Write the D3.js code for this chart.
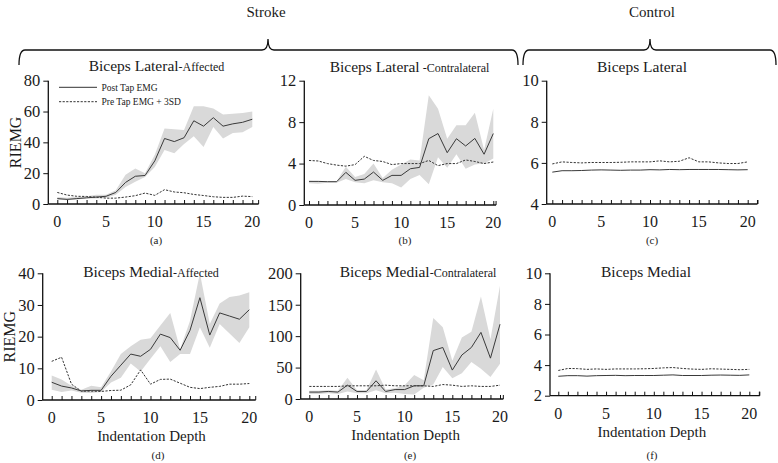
<!DOCTYPE html>
<html><head><meta charset="utf-8">
<script src="https://cdn.jsdelivr.net/npm/d3@7"></script>
<style>
body{margin:0;background:#fff}
svg{display:block;font-family:"Liberation Serif","Times New Roman","DejaVu Serif",serif}
svg text{font-family:"Liberation Serif","Times New Roman","DejaVu Serif",serif !important;fill:#1a1a1a}
</style>
</head><body>
<svg id="chart" width="778" height="463"></svg>
<script>
// ---------- DATA ----------
const depths = [0,1,2,3,4,5,6,7,8,9,10,11,12,13,14,15,16,17,18,19,20];

// (a) Biceps Lateral - Affected
const aPost  = [3.5,3,3.5,4,4.5,5,7.5,14,18,18.5,28,42.5,40.5,43,54,50.5,56,50.5,52,53,55];
const aUpper = [4.5,4,4.5,5,6,6,9,19,23,20,32,49,48.5,48,63.5,63.5,62,58,58.5,59,60];
const aLower = [3,2.5,3,3.5,3.5,4,6,11,14.5,17.5,24,35,33,39,44,37,50,42.5,46,46.5,50];
const aPre   = [7.5,5.8,5,4.9,4.4,3.8,3.8,4.5,5.4,7.1,5.6,9.3,7.8,7.3,6.2,5.5,4.7,4.3,4.3,5.1,4.8];

// (b) Biceps Lateral - Contralateral
const bPost  = [2.28,2.28,2.25,2.25,3.15,2.38,2.5,3.18,2.38,2.86,2.86,3.5,3.63,6.4,6.9,5.05,6.4,5.7,6.43,4.9,6.9];
const bUpper = [2.35,2.3,2.3,2.3,3.7,2.7,3.0,4.0,2.6,3.4,3.9,4.4,4.3,10.6,9.3,6.4,7.7,7.7,8.9,5.3,9.3];
const bLower = [2.1,2.05,2.15,2.15,2.5,2.2,2.1,2.4,2.2,2.1,1.7,2.5,2.9,2.0,4.6,3.6,4.9,3.5,3.9,4.0,4.5];
const bPre   = [4.3,4.25,4.0,3.85,3.75,3.9,4.7,4.3,4.2,3.9,4.0,4.0,4.0,4.3,3.8,4.0,4.0,4.35,4.2,4.0,4.15];

// (c) Biceps Lateral - Control
const cPost  = [5.55,5.62,5.62,5.63,5.65,5.66,5.65,5.64,5.65,5.65,5.67,5.66,5.68,5.67,5.68,5.68,5.68,5.68,5.67,5.66,5.67];
const cPre   = [5.95,6.05,6.02,6.0,6.02,6.02,6.02,6.03,6.05,6.05,6.05,6.1,6.05,6.08,6.25,6.05,6.05,6.0,5.97,5.97,6.05];

// (d) Biceps Medial - Affected
const dPost  = [5.6,4.4,3.8,2.85,3.05,3.05,7.5,11,14.5,13.8,16,20.8,19.7,15.7,22,32.3,20.5,27.5,26.5,25.5,28.5];
const dUpper = [7.7,6.5,4.5,3.2,4.5,4,9,14.5,17,19,19.5,23.5,27.5,16,25,40,24,30.5,32.5,33,34];
const dLower = [3.2,2.5,3,2.3,2.2,2.5,5.5,7,11.5,9,13,17,12,14.5,14.5,23,16.5,24,21,18,23];
const dPre   = [12.2,13.5,5,2.8,2.8,2.7,3.0,3.1,4.8,9.5,5.0,6.5,6.6,5.3,4.0,3.6,4.0,4.3,5.0,5.0,5.2];

// (e) Biceps Medial - Contralateral
const ePost  = [11,11,12,11,22,12,12,29,12,15,15,21,21,77,82,46,70,82,106,65,119];
const eUpper = [13,13,14,13,34,14,14,47,15,17,22,38,30,129,114,61,98,107,163,95,180];
const eLower = [8,8,9,8,12,9,9,14,9,10,8,7,18,23,51,33,41,59,48,35,56];
const ePre   = [20,20,20,20,21,21,21,21,22,21,21,21,21,20,23,22,20,21,20,20,22];

// (f) Biceps Medial - Control
const fPost  = [3.27,3.31,3.31,3.28,3.31,3.32,3.33,3.31,3.32,3.32,3.32,3.34,3.36,3.32,3.32,3.32,3.34,3.35,3.34,3.33,3.36];
const fPre   = [3.65,3.78,3.77,3.72,3.75,3.72,3.75,3.75,3.75,3.76,3.78,3.82,3.84,3.78,3.74,3.72,3.76,3.74,3.72,3.7,3.72];

const xTickLabels = [0,5,10,15,20];
const legendLabels = ["Post Tap EMG","Pre Tap EMG + 3SD"];
const groupLabels = ["Stroke","Control"];

// ---------- LAYOUT ----------
const svg = d3.select("#chart");
const FONT = '"Liberation Serif","Times New Roman","DejaVu Serif",serif';

const panels = [
  {post:aPost,up:aUpper,lo:aLower,pre:aPre,yDom:[0,80],yTicks:[0,20,40,60,80],
   ax:48.3,x0:57.3,x20:252.3,xEnd:20.65,yTop:80.7,yBot:204,
   t1:"Biceps Lateral",t2:"-Affected",tx:156.5,ty:71,lab:"(a)",lx:156,ly:244,ylab:true,xlab:false,legend:true,ctl:false},
  {post:bPost,up:bUpper,lo:bLower,pre:bPre,yDom:[0,12],yTicks:[0,4,8,12],
   ax:304.3,x0:309,x20:493.3,xEnd:20.3,yTop:80.7,yBot:205,
   t1:"Biceps Lateral",t2:" -Contralateral",tx:409.5,ty:72,lab:"(b)",lx:405,ly:244,ylab:false,xlab:false,legend:false,ctl:false},
  {post:cPost,pre:cPre,yDom:[4,10],yTicks:[4,6,8,10],
   ax:546.7,x0:552.3,x20:747.7,xEnd:21,yTop:80.7,yBot:204,
   t1:"Biceps Lateral",t2:"",tx:642,ty:71.5,lab:"(c)",lx:652,ly:244,ylab:false,xlab:false,legend:false,ctl:true},
  {post:dPost,up:dUpper,lo:dLower,pre:dPre,yDom:[0,40],yTicks:[0,10,20,30,40],
   ax:42.7,x0:51.7,x20:249.3,xEnd:20.65,yTop:273.3,yBot:400,
   t1:"Biceps Medial",t2:"-Affected",tx:151,ty:277,lab:"(d)",lx:158,ly:459,ylab:true,xlab:true,legend:false,ctl:false},
  {post:ePost,up:eUpper,lo:eLower,pre:ePre,yDom:[0,200],yTicks:[0,50,100,150,200],
   ax:300.7,x0:309.3,x20:500,xEnd:20.35,yTop:273.3,yBot:399,
   t1:"Biceps Medial",t2:"-Contralateral",tx:418,ty:277,lab:"(e)",lx:410,ly:459,ylab:false,xlab:true,legend:false,ctl:false},
  {post:fPost,pre:fPre,yDom:[2,10],yTicks:[2,4,6,8,10],
   ax:550,x0:558.3,x20:749.3,xEnd:21.1,yTop:273.3,yBot:395.7,
   t1:"Biceps Medial",t2:"",tx:646,ty:277,lab:"(f)",lx:652,ly:459,ylab:false,xlab:true,legend:false,ctl:true}
];

function txt(sel, size){ return sel.style("font-family",FONT).style("font-size",size); }

panels.forEach(p => {
  const g = svg.append("g");
  const x = d3.scaleLinear().domain([0,20]).range([p.x0,p.x20]);
  const y = d3.scaleLinear().domain(p.yDom).range([p.yBot,p.yTop]);

  if (p.up) {
    const area = d3.area().x((d,i)=>x(depths[i])).y0((d,i)=>y(p.lo[i])).y1((d,i)=>y(p.up[i]));
    g.append("path").datum(p.up).attr("d",area).attr("fill","#d9d9d9").attr("stroke","none");
  }
  const line = d3.line().x((d,i)=>x(depths[i])).y(d=>y(d));
  g.append("path").datum(p.pre).attr("d",line).attr("fill","none")
    .attr("stroke","#333").attr("stroke-width",1).attr("stroke-dasharray","2.2,1.4");
  g.append("path").datum(p.post).attr("d",line).attr("fill","none")
    .attr("stroke","#3a3a3a").attr("stroke-width",1);

  // x axis
  const xTickVals = depths.concat(p.ctl ? [21] : []);
  const xAxis = d3.axisBottom(x).tickValues(xTickVals).tickSize(-4).tickFormat("");
  const xg = g.append("g").attr("transform",`translate(0,${p.yBot})`).call(xAxis);
  xg.select(".domain").remove();
  xg.selectAll(".tick line").attr("stroke","#111").attr("stroke-width",1);
  g.append("line").attr("x1",p.ax).attr("x2",x(p.xEnd)).attr("y1",p.yBot).attr("y2",p.yBot)
    .attr("stroke","#111").attr("stroke-width",1.3);
  g.append("line").attr("x1",x(p.xEnd)).attr("x2",x(p.xEnd)).attr("y1",p.yBot).attr("y2",p.yBot-4)
    .attr("stroke","#111").attr("stroke-width",1);
  txt(g.selectAll(".xl").data(xTickLabels).join("text")
    .attr("x",d=>x(d)).attr("y",p.yBot+23).attr("text-anchor","middle"),"16px").text(d=>d);

  // y axis
  const yAxis = d3.axisLeft(y).tickValues(p.yTicks).tickSize(5).tickPadding(3).tickFormat(d3.format("d"));
  const yg = g.append("g").attr("transform",`translate(${p.ax},0)`).call(yAxis);
  yg.attr("font-family",FONT);
  yg.select(".domain").attr("stroke","#111").attr("stroke-width",1.3).attr("d",`M0,${p.yBot}V${p.yTop}`);
  yg.selectAll(".tick line").attr("stroke","#111").attr("stroke-width",1);
  txt(yg.selectAll(".tick text"),"16.5px").attr("fill","#1a1a1a");

  // title
  const t = g.append("text").attr("x",p.tx).attr("y",p.ty).attr("text-anchor","middle").style("font-family",FONT);
  t.append("tspan").style("font-size","15.5px").text(p.t1);
  if (p.t2) t.append("tspan").style("font-size","12px").text(p.t2);

  txt(g.append("text").attr("x",p.lx).attr("y",p.ly).attr("text-anchor","middle"),"11px").text(p.lab);

  if (p.ylab) {
    const cy = (p.yTop+p.yBot)/2;
    txt(g.append("text").attr("transform",`translate(${p.ax-33},${cy}) rotate(-90)`)
      .attr("text-anchor","middle").attr("dy","0.35em"),"16px").text("RIEMG");
  }
  if (p.xlab) {
    txt(g.append("text").attr("x",(p.x0+p.x20)/2+(p.ctl?-2:1)).attr("y",p.yBot+41).attr("text-anchor","middle"),"15px")
      .text("Indentation Depth");
  }
  if (p.legend) {
    const lg = [ {y:87.3,dash:null}, {y:101.7,dash:"2.2,1.4"} ];
    lg.forEach((L,i)=>{
      g.append("line").attr("x1",59).attr("x2",97).attr("y1",L.y).attr("y2",L.y)
        .attr("stroke","#333").attr("stroke-width",1).attr("stroke-dasharray",L.dash);
      txt(g.append("text").attr("x",101.5).attr("y",L.y).attr("dy","0.35em"),"9.5px").text(legendLabels[i]);
    });
  }
});

function brace(x1,xm,x2){
  const yb=50, yt=39, ye=65, r=6;
  return `M${x1},${ye} Q${x1},${yb} ${x1+r},${yb} L${xm-r},${yb} Q${xm},${yb} ${xm},${yt} Q${xm},${yb} ${xm+r},${yb} L${x2-r},${yb} Q${x2},${yb} ${x2},${ye}`;
}
svg.append("path").attr("d",brace(19,268,518)).attr("fill","none").attr("stroke","#111").attr("stroke-width",1.3);
svg.append("path").attr("d",brace(523,650,776)).attr("fill","none").attr("stroke","#111").attr("stroke-width",1.3);
txt(svg.append("text").attr("x",266).attr("y",17).attr("text-anchor","middle"),"15px").text(groupLabels[0]);
txt(svg.append("text").attr("x",652).attr("y",17).attr("text-anchor","middle"),"15px").text(groupLabels[1]);
</script>
</body></html>
